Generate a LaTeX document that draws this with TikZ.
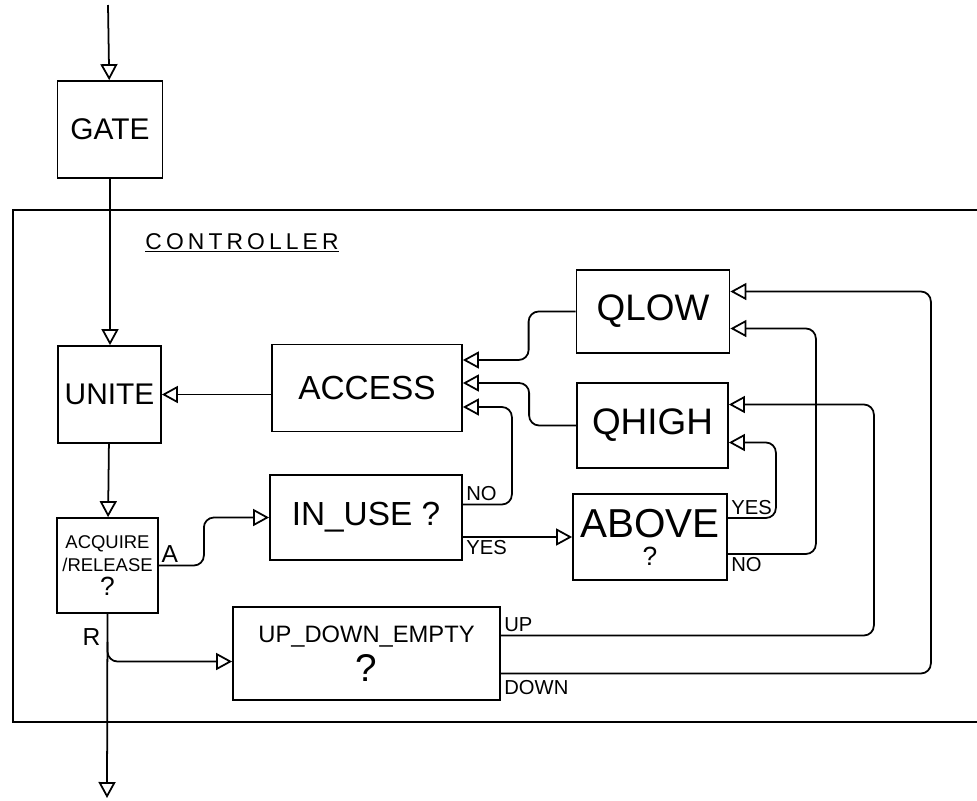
\documentclass[tikz,border=0pt]{standalone}
\usepackage{fontspec}
\setmainfont{Liberation Sans}
\usetikzlibrary{positioning,arrows.meta,calc}
\tikzset{
  blk/.style={draw, line width=1pt, inner sep=0pt, align=center},
  flow/.style={-{Triangle[open, length=3.2mm, width=3.4mm]}, line width=1pt, rounded corners=2mm},
  lbl/.style={font=\fontsize{11.5}{11.5}\selectfont, inner sep=1.5pt},
  tag/.style={font=\fontsize{14}{14}\selectfont, inner sep=1pt},
}

\begin{document}
\begin{tikzpicture}[x=0.2mm, y=-0.2mm]
  \useasboundingbox (0,0) rectangle (977,800);

  % ------------------------------------------------ outside the controller
  \coordinate (in) at (108,5);
  \node[blk, minimum width=21mm, minimum height=19.4mm, font=\fontsize{17}{17}\selectfont] (gate) at (110,129.5) {GATE};
  \coordinate (out) at (107,798);

  % ------------------------------------------------ controller frame
  \draw[line width=1pt] (977,210) -- (13,210) -- (13,722) -- (977,722);
  \node[font=\fontsize{13}{13}\selectfont\addfontfeatures{LetterSpace=18}] (ctl) at (242,243) {\underline{CONTROLLER}};

  % ------------------------------------------------ blocks
  \node[blk, minimum width=20.6mm, minimum height=19.4mm, font=\fontsize{17}{17}\selectfont] (unite) at (109.5,394.5) {UNITE};
  \node[blk, minimum width=20.2mm, minimum height=19mm, font=\fontsize{10.5}{13.5}\selectfont] (acq) at (107.5,565.5)
    {ACQUIRE\\/RELEASE\\{\fontsize{15}{15}\selectfont ?}};
  \node[blk, minimum width=38mm, minimum height=17.4mm, font=\fontsize{19}{19}\selectfont] (access) at (367,388) {ACCESS};
  \node[blk, minimum width=30.6mm, minimum height=16.6mm, font=\fontsize{21}{21}\selectfont] (qlow) at (653,311.5) {QLOW};
  \node[blk, minimum width=30.2mm, minimum height=17mm, font=\fontsize{21}{21}\selectfont] (qhigh) at (652.5,425.5) {QHIGH};
  \node[blk, minimum width=38.4mm, minimum height=17mm, font=\fontsize{19}{19}\selectfont] (inuse) at (366,517.5) {IN\_USE ?};
  \node[blk, minimum width=30.8mm, minimum height=17.2mm, font=\fontsize{23}{23}\selectfont] (above) at (650,537)
    {ABOVE\\[-7pt]{\fontsize{15}{15}\selectfont ?}};
  \node[blk, minimum width=53.4mm, minimum height=18.6mm, font=\fontsize{13.5}{13.5}\selectfont] (updown) at (366.5,653.5)
    {UP\_DOWN\_EMPTY\\[3pt]{\fontsize{22}{22}\selectfont ?}};

  % ------------------------------------------------ main line
  \draw[flow] (in) -- (gate);
  \draw[flow] (gate.south) -- (gate.south |- unite.north);
  \draw[flow] (access.west |- unite.east) -- (unite.east);
  \draw[flow] (unite) -- (acq);
  \draw[flow] (acq.south) -- (out);

  % ------------------------------------------------ acquire / release
  \draw[flow] (acq.east) node[tag, anchor=south west] {A} -- ++(45,0) |- (inuse.west);
  \node[tag, below left=2.6mm and 1mm of acq.south] (rlab) {R};
  \coordinate (rsplit) at ($(acq.south)+(0,28)$);
  \draw[flow] (rsplit) |- ($(updown.west)+(0,8)$);

  % ------------------------------------------------ in use and above
  \draw[flow] ($(inuse.east)+(0,-13)$) node[lbl, anchor=south west] {NO} -- ++(49,0) |- ($(access.east)+(0,19)$);
  \draw[flow] (inuse.east |- above.west) node[lbl, anchor=north west] {YES} -- (above.west);
  \draw[flow] ($(above.east)+(0,-19)$) node[lbl, anchor=south west] {YES} -- ++(48,0) |- ($(qhigh.east)+(0,17)$);
  \draw[flow] ($(above.east)+(0,17)$) node[lbl, anchor=north west] {NO} -- ++(88,0) |- ($(qlow.east)+(0,17)$);

  % ------------------------------------------------ queues into access
  \draw[flow] (qlow.west) -- ++(-47,0) |- ($(access.east)+(0,-28)$);
  \draw[flow] (qhigh.west) -- ++(-47,0) |- ($(access.east)+(0,-5)$);

  % ------------------------------------------------ up / down / empty
  \draw[flow] ($(updown.east)+(0,-18)$) node[lbl, anchor=south west] {UP} -- ++(373,0) |- ($(qhigh.east)+(0,-21)$);
  \draw[flow] ($(updown.east)+(0,20)$) node[lbl, anchor=north west, yshift=-2pt] {DOWN} -- ++(430,0) |- ($(qlow.east)+(0,-20)$);
\end{tikzpicture}
\end{document}
